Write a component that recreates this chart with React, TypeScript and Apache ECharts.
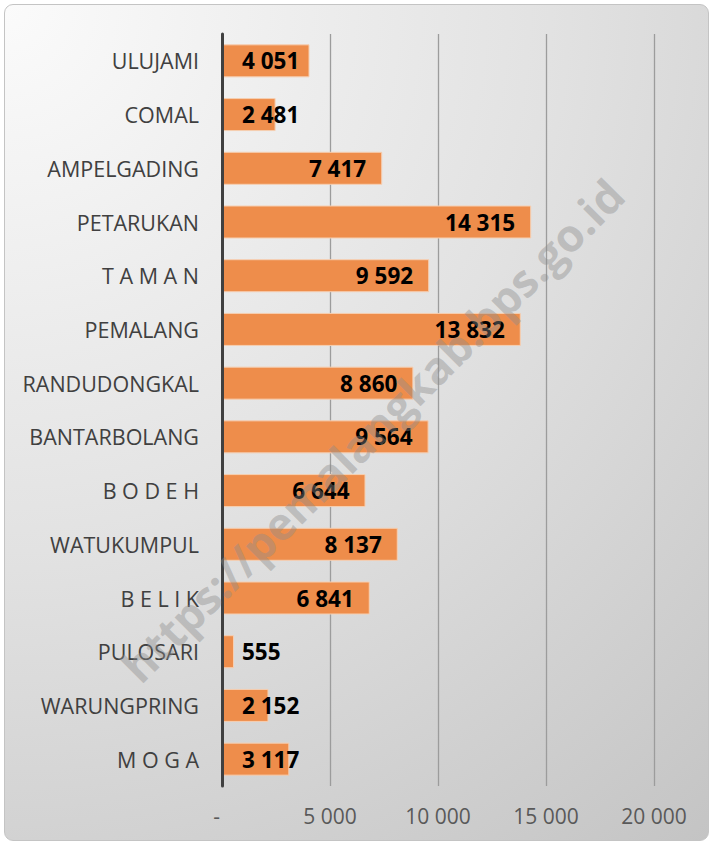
import React, { useEffect, useRef } from "react";
import * as echarts from "echarts";

const categories = [
  "ULUJAMI",
  "COMAL",
  "AMPELGADING",
  "PETARUKAN",
  "T A M A N",
  "PEMALANG",
  "RANDUDONGKAL",
  "BANTARBOLANG",
  "B O D E H",
  "WATUKUMPUL",
  "B E L I K",
  "PULOSARI",
  "WARUNGPRING",
  "M O G A",
];

const values = [4051, 2481, 7417, 14315, 9592, 13832, 8860, 9564, 6644, 8137, 6841, 555, 2152, 3117];

const axisMin = 0;
const axisMax = 20000;
const axisStep = 5000;

const watermark = "https://pemalangkab.bps.go.id";

const fmt = (v: number) => String(v).replace(/\B(?=(\d{3})+(?!\d))/g, " ");

export default function App() {
  const ref = useRef<HTMLDivElement>(null);

  useEffect(() => {
    if (!ref.current) return;
    const chart = echarts.init(ref.current, undefined, { renderer: "svg" });
    const font = "'Open Sans', 'Noto Sans', sans-serif";
    chart.setOption({
      animation: false,
      grid: { left: 222, right: 59, top: 34, bottom: 59, containLabel: false },
      xAxis: {
        type: "value",
        min: axisMin,
        max: axisMax,
        interval: axisStep,
        axisLine: { show: false },
        axisTick: { show: false },
        splitLine: { show: true, lineStyle: { color: "#9c9c9c", width: 1.3 } },
        axisLabel: {
          margin: 19,
          fontSize: 21,
          color: "#595959",
          fontFamily: font,
          formatter: (v: number) => (v === 0 ? "-  " : fmt(v)),
        },
      },
      yAxis: {
        type: "category",
        inverse: true,
        data: categories,
        axisLine: { show: true, lineStyle: { color: "#404040", width: 3 } },
        axisTick: { show: false },
        axisLabel: {
          margin: 23,
          fontSize: 21.5,
          color: "#404040",
          fontFamily: font,
        },
        z: 5,
      },
      series: [
        {
          type: "bar",
          barWidth: 33,
          data: values.map((v) => ({
            value: v,
            label: v >= 5000
              ? { position: "insideRight", distance: 16 }
              : { position: "insideLeft", distance: 20 },
          })),
          itemStyle: { color: "#EE8D4B", borderColor: "#F6CFB2", borderWidth: 1 },
          label: {
            show: true,
            fontSize: 22.5,
            fontWeight: "bold",
            color: "#000000",
            fontFamily: font,
            formatter: (p: any) => fmt(p.value),
          },
        },
      ],
      graphic: [
        {
          type: "text",
          x: 372,
          y: 430,
          rotation: Math.PI / 4,
          z: 100,
          silent: true,
          style: {
            text: watermark,
            fontSize: 45,
            fontWeight: "bold",
            fontFamily: font,
            fill: "rgba(140,140,140,0.42)",
            align: "center",
            verticalAlign: "middle",
          },
        },
      ],
    });
    return () => chart.dispose();
  }, []);

  return (
    <div style={{ position: "fixed", left: 0, top: 0, width: 713, height: 845, background: "#ffffff" }}>
      <div
        style={{
          position: "absolute",
          left: 4,
          top: 4,
          width: 705,
          height: 837,
          boxSizing: "border-box",
          border: "1.5px solid #c4c4c4",
          borderRadius: 9,
          background: "radial-gradient(circle farthest-corner at 0% 0%, #fbfbfb 0%, #e2e2e2 50%, #c4c4c4 100%)",
        }}
      />
      <div ref={ref} style={{ position: "absolute", left: 0, top: 0, width: 713, height: 845 }} />
    </div>
  );
}
